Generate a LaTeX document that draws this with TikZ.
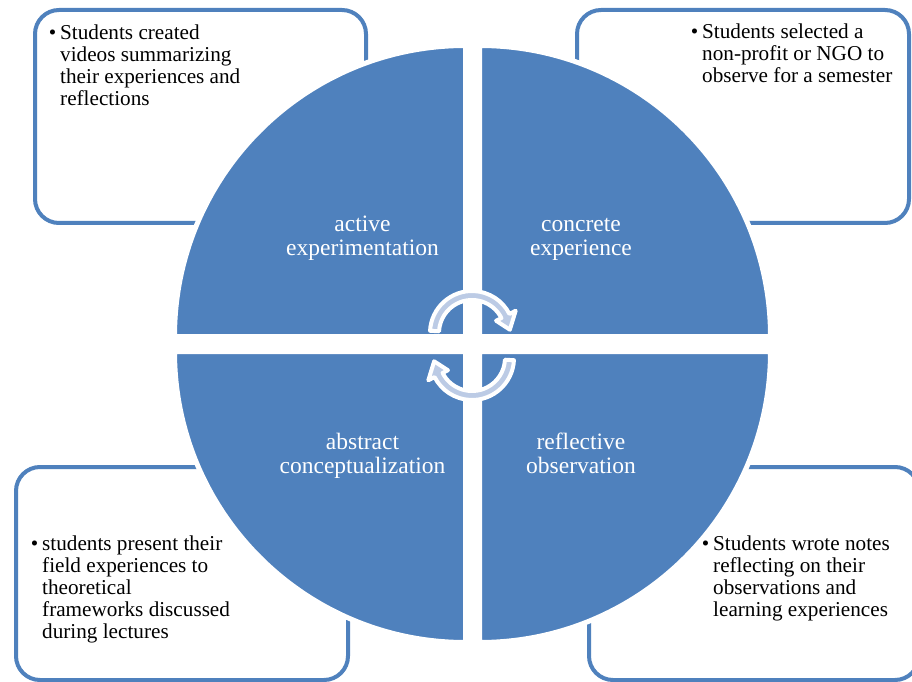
\documentclass[tikz,border=0pt]{standalone}
\usepackage{fontspec}
\setmainfont{Liberation Serif}
\definecolor{kblue}{HTML}{4F81BD}
\definecolor{karrow}{HTML}{BCCBE5}
\tikzset{
 notebox/.style={draw=kblue, line width=4pt, rounded corners=24pt, fill=white},
 quad/.style={fill=kblue, draw=white, line width=5pt, line join=miter},
 quadtext/.style={text=white, align=center, font=\fontsize{23.5}{24}\selectfont, inner sep=0pt, anchor=base},
 notetext/.style={text=black, align=left, font=\fontsize{21.2}{22}\selectfont, inner sep=0pt, anchor=base west},
 cyc/.style={fill=karrow, draw=white, line width=4pt, line join=round},
}
\begin{document}
\begin{tikzpicture}[x=1pt,y=1pt]
\useasboundingbox (0,0) rectangle (912,681);
% note boxes
\draw[notebox] (35,671) rectangle (366,458);
\draw[notebox] (577,671) rectangle (909,458);
\draw[notebox] (16,214) rectangle (348,1);
\draw[notebox] (589,214) rectangle (919,1);
% quadrants
\draw[quad] (465.5,344.5) -- ++(-291,0) arc[start angle=180,end angle=90,radius=291] -- cycle;
\draw[quad] (479.5,344.5) -- ++(0,291) arc[start angle=90,end angle=0,radius=291] -- cycle;
\draw[quad] (465.5,329.5) -- ++(0,-291) arc[start angle=270,end angle=180,radius=291] -- cycle;
\draw[quad] (479.5,329.5) -- ++(291,0) arc[start angle=0,end angle=-90,radius=291] -- cycle;
% cycle arrows
\begin{scope}[shift={(472,348)}]
\draw[cyc] (177:42) arc[start angle=177,end angle=27,radius=42] -- (27:49) -- (5:38) -- (27:27) -- (27:33) arc[start angle=27,end angle=177,radius=33] -- cycle;
\end{scope}
\begin{scope}[shift={(472,323)},rotate=180]
\draw[cyc] (177:42) arc[start angle=177,end angle=27,radius=42] -- (27:49) -- (5:38) -- (27:27) -- (27:33) arc[start angle=27,end angle=177,radius=33] -- cycle;
\end{scope}
% quadrant labels (anchor = baseline of last line)
\node[quadtext] (ae) at (362.5,425) {active\\experimentation};
\node[quadtext] (ce) at (581,425) {concrete\\experience};
\node[quadtext] (ac) at (362.5,208) {abstract\\conceptualization};
\node[quadtext] (ro) at (581,208) {reflective\\observation};
% notes (anchor = baseline of last line)
\node[notetext] (n1) at (60,575) {\llap{•\hspace{4pt}}Students created\\videos summarizing\\their experiences and\\reflections};
\node[notetext] (n2) at (702,598) {\llap{•\hspace{4pt}}Students selected a\\non-profit or NGO to\\observe for a semester};
\node[notetext] (n3) at (42,43) {\llap{•\hspace{4pt}}students present their\\field experiences to\\theoretical\\frameworks discussed\\during lectures};
\node[notetext] (n4) at (713,65) {\llap{•\hspace{4pt}}Students wrote notes\\reflecting on their\\observations and\\learning experiences};
\end{tikzpicture}
\end{document}
